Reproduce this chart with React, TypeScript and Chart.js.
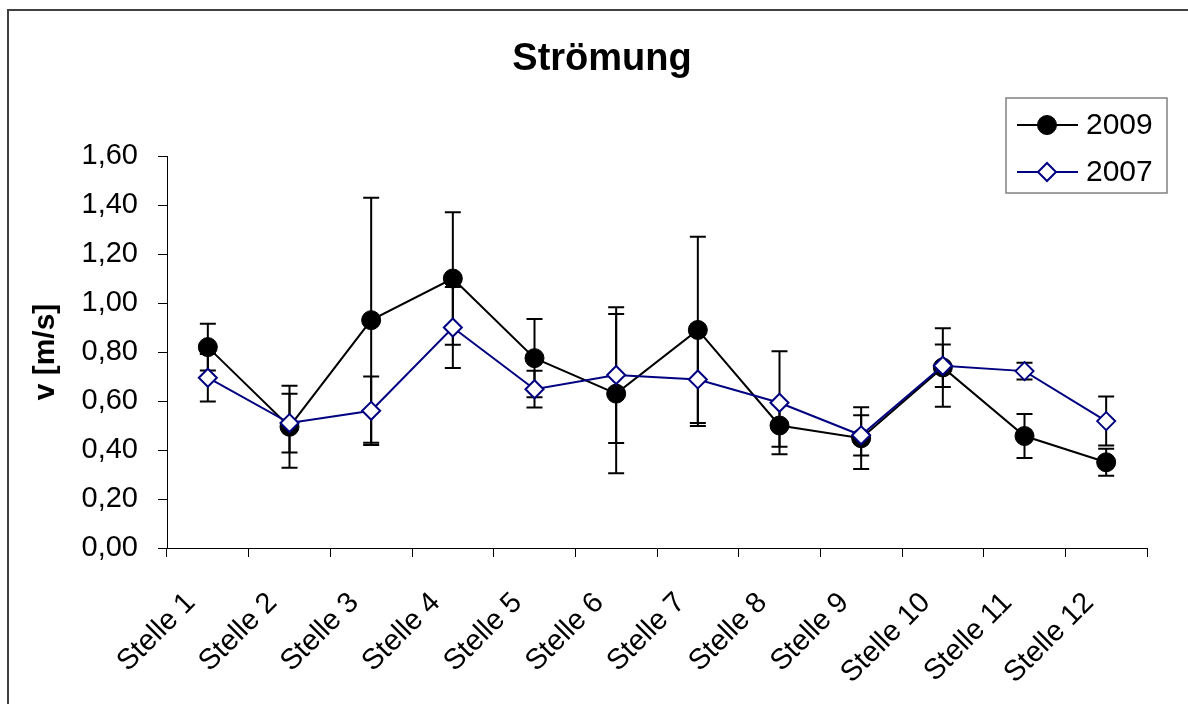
import React, { useEffect, useRef } from "react";
import { Chart, registerables } from "chart.js";

Chart.register(...registerables);

const FONT = "'Liberation Sans', Arial, sans-serif";

const categories = [
  "Stelle 1", "Stelle 2", "Stelle 3", "Stelle 4", "Stelle 5", "Stelle 6",
  "Stelle 7", "Stelle 8", "Stelle 9", "Stelle 10", "Stelle 11", "Stelle 12",
];

const values2009 = [0.82, 0.495, 0.93, 1.1, 0.775, 0.63, 0.89, 0.5, 0.448, 0.737, 0.457, 0.35];
const errors2009 = [0.095, 0.167, 0.5, 0.27, 0.16, 0.325, 0.38, 0.087, 0.126, 0.16, 0.09, 0.055];

const values2007 = [0.695, 0.51, 0.56, 0.9, 0.648, 0.706, 0.688, 0.593, 0.46, 0.744, 0.722, 0.518];
const errors2007 = [0.097, 0.12, 0.14, 0.165, 0.075, 0.277, 0.19, 0.21, 0.082, 0.087, 0.034, 0.1];

const seriesLabels = ["2009", "2007"];
const chartTitle = "Strömung";
const yTitle = "v [m/s]";

const errorsByDataset = [errors2009, errors2007];

const frameBorder = {
  id: "frameBorder",
  beforeDraw(chart: any) {
    const ctx = chart.ctx;
    ctx.save();
    ctx.fillStyle = "#ffffff";
    ctx.fillRect(0, 0, chart.width, chart.height);
    ctx.strokeStyle = "#404040";
    ctx.lineWidth = 2;
    ctx.beginPath();
    ctx.moveTo(8, chart.height + 2);
    ctx.lineTo(8, 10);
    ctx.lineTo(chart.width + 2, 10);
    ctx.stroke();
    ctx.restore();
  },
};

const titleText = {
  id: "titleText",
  afterDraw(chart: any) {
    const ctx = chart.ctx;
    ctx.save();
    ctx.fillStyle = "#000000";
    ctx.font = `bold 38px ${FONT}`;
    ctx.textAlign = "center";
    ctx.textBaseline = "alphabetic";
    ctx.fillText(chartTitle, 602, 70);
    ctx.restore();
  },
};

const errorBars = {
  id: "errorBars",
  beforeDatasetsDraw(chart: any) {
    const ctx = chart.ctx;
    const yScale = chart.scales.y;
    ctx.save();
    ctx.strokeStyle = "#000000";
    ctx.lineWidth = 2;
    chart.data.datasets.forEach((ds: any, i: number) => {
      const meta = chart.getDatasetMeta(i);
      const errs = errorsByDataset[i];
      meta.data.forEach((pt: any, j: number) => {
        const v = ds.data[j];
        const e = errs[j];
        const x = pt.x;
        const yt = yScale.getPixelForValue(v + e);
        const yb = yScale.getPixelForValue(v - e);
        ctx.beginPath();
        ctx.moveTo(x, yt);
        ctx.lineTo(x, yb);
        ctx.moveTo(x - 8, yt);
        ctx.lineTo(x + 8, yt);
        ctx.moveTo(x - 8, yb);
        ctx.lineTo(x + 8, yb);
        ctx.stroke();
      });
    });
    ctx.restore();
  },
};

const customLegend = {
  id: "customLegend",
  afterDraw(chart: any) {
    const ctx = chart.ctx;
    ctx.save();
    const bx = 1006, by = 98, bw = 161, bh = 95;
    ctx.fillStyle = "#ffffff";
    ctx.fillRect(bx, by, bw, bh);
    ctx.strokeStyle = "#808080";
    ctx.lineWidth = 1.5;
    ctx.strokeRect(bx, by, bw, bh);
    const rows = [125, 172];
    const order = [0, 1];
    order.forEach((di, k) => {
      const ds = chart.data.datasets[di];
      const y = rows[k];
      ctx.strokeStyle = ds.borderColor;
      ctx.lineWidth = 2;
      ctx.beginPath();
      ctx.moveTo(1017, y);
      ctx.lineTo(1078, y);
      ctx.stroke();
      const cx = 1047;
      ctx.beginPath();
      if (ds.pointStyle === "rectRot") {
        const r = ds.pointRadius;
        ctx.moveTo(cx - r, y);
        ctx.lineTo(cx, y - r);
        ctx.lineTo(cx + r, y);
        ctx.lineTo(cx, y + r);
        ctx.closePath();
      } else {
        ctx.arc(cx, y, ds.pointRadius, 0, Math.PI * 2);
      }
      ctx.fillStyle = ds.pointBackgroundColor;
      ctx.fill();
      ctx.lineWidth = ds.pointBorderWidth;
      ctx.strokeStyle = ds.pointBorderColor;
      ctx.stroke();
      ctx.fillStyle = "#000000";
      ctx.font = `30px ${FONT}`;
      ctx.textAlign = "left";
      ctx.textBaseline = "middle";
      ctx.fillText(ds.label, 1086, y + 1);
    });
    ctx.restore();
  },
};

export default function App() {
  const canvasRef = useRef<HTMLCanvasElement | null>(null);

  useEffect(() => {
    if (!canvasRef.current) return;
    const chart = new Chart(canvasRef.current, {
      type: "line",
      data: {
        labels: categories,
        datasets: [
          {
            label: seriesLabels[0],
            data: values2009,
            borderColor: "#000000",
            borderWidth: 2,
            pointStyle: "circle",
            pointRadius: 9.5,
            pointBackgroundColor: "#000000",
            pointBorderColor: "#000000",
            pointBorderWidth: 1,
            fill: false,
            tension: 0,
            order: 2,
          },
          {
            label: seriesLabels[1],
            data: values2007,
            borderColor: "#000080",
            borderWidth: 2,
            pointStyle: "rectRot",
            pointRadius: 9,
            pointBackgroundColor: "#ffffff",
            pointBorderColor: "#000080",
            pointBorderWidth: 2,
            fill: false,
            tension: 0,
            order: 1,
          },
        ] as any,
      },
      options: {
        responsive: false,
        animation: false,
        layout: { padding: { left: 8, right: 41, top: 156, bottom: 0 } },
        plugins: {
          legend: { display: false },
          tooltip: { enabled: false },
          title: { display: false },
        },
        scales: {
          x: {
            type: "category",
            offset: true,
            grid: {
              offset: true,
              drawOnChartArea: false,
              drawTicks: true,
              tickLength: 9,
              tickColor: "#000000",
              tickWidth: 1,
            },
            border: { color: "#000000", width: 1 },
            ticks: {
              autoSkip: false,
              maxRotation: 45,
              minRotation: 45,
              padding: 29,
              labelOffset: -17,
              color: "#000000",
              font: { family: FONT, size: 29 },
            },
            afterFit(scale: any) {
              scale.height = 156;
            },
          },
          y: {
            min: 0,
            max: 1.6,
            grid: {
              drawOnChartArea: false,
              drawTicks: true,
              tickLength: 9,
              tickColor: "#000000",
              tickWidth: 1,
            },
            border: { color: "#000000", width: 1 },
            ticks: {
              stepSize: 0.2,
              padding: 20,
              color: "#000000",
              font: { family: FONT, size: 29 },
              callback: (v: any) => Number(v).toFixed(2).replace(".", ","),
            },
            title: {
              display: true,
              text: yTitle,
              color: "#000000",
              font: { family: FONT, size: 30, weight: "bold" },
              padding: { top: 20, bottom: 0 },
            },
            afterFit(scale: any) {
              scale.width = 159;
            },
          },
        },
      } as any,
      plugins: [frameBorder, errorBars, customLegend, titleText],
    });
    return () => chart.destroy();
  }, []);

  return (
    <div style={{ position: "absolute", left: 0, top: 0, width: 1188, height: 704 }}>
      <canvas ref={canvasRef} width={1188} height={704} style={{ display: "block" }} />
    </div>
  );
}
